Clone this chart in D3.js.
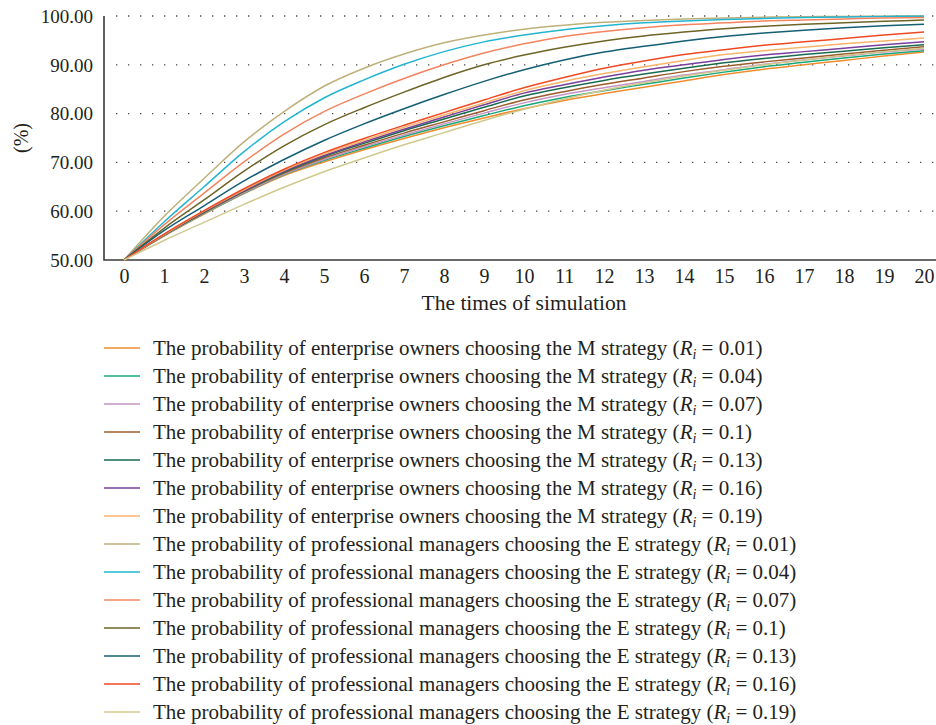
<!DOCTYPE html>
<html>
<head>
<meta charset="utf-8">
<script src="https://cdn.jsdelivr.net/npm/d3@7"></script>
<style>
  html, body { margin: 0; padding: 0; background: #fff; }
  svg { display: block; }
  text { font-family: "Liberation Serif", "DejaVu Serif", serif; fill: #231f20; }
</style>
</head>
<body>
<svg id="chart" width="936" height="725"></svg>
<script>
// Simulation steps on the x axis
const times = [0, 1, 2, 3, 4, 5, 6, 7, 8, 9, 10, 11, 12, 13, 14, 15, 16, 17, 18, 19, 20];
const yTicks = [50, 60, 70, 80, 90, 100];

// Enterprise owners choosing the M strategy (%), by R_i
const ownersM001 = [50, 54.9, 59.4, 63.6, 67.3, 70.1, 72.6, 74.9, 77.1, 79.1, 81.0, 82.7, 84.1, 85.4, 86.7, 88.0, 89.1, 90.0, 90.9, 91.8, 92.6];
const ownersM004 = [50, 55.0, 59.5, 63.7, 67.5, 70.4, 72.9, 75.3, 77.5, 79.6, 81.6, 83.3, 84.7, 86.0, 87.3, 88.5, 89.6, 90.5, 91.4, 92.2, 92.9];
const ownersM007 = [50, 55.0, 59.6, 63.8, 67.6, 70.6, 73.2, 75.6, 77.9, 80.1, 82.2, 83.9, 85.3, 86.6, 87.9, 89.0, 90.1, 91.0, 91.8, 92.6, 93.2];
const ownersM010 = [50, 55.1, 59.7, 64.0, 67.8, 70.9, 73.5, 76.0, 78.3, 80.6, 82.8, 84.5, 86.0, 87.3, 88.6, 89.7, 90.6, 91.4, 92.2, 93.0, 93.7];
const ownersM013 = [50, 55.1, 59.8, 64.1, 68.0, 71.2, 73.9, 76.5, 78.9, 81.3, 83.6, 85.3, 86.8, 88.1, 89.3, 90.4, 91.3, 92.1, 92.8, 93.5, 94.1];
const ownersM016 = [50, 55.2, 59.9, 64.2, 68.2, 71.4, 74.2, 76.8, 79.3, 81.8, 84.2, 85.9, 87.5, 88.9, 90.0, 91.1, 92.0, 92.7, 93.4, 94.1, 94.7];
const ownersM019 = [50, 55.2, 60.0, 64.4, 68.4, 71.7, 74.5, 77.2, 79.7, 82.2, 84.7, 86.6, 88.2, 89.6, 90.9, 92.1, 92.9, 93.6, 94.3, 94.9, 95.5];

// Professional managers choosing the E strategy (%), by R_i
const managersE001 = [50, 58.9, 66.7, 74.2, 80.4, 85.6, 89.3, 92.2, 94.5, 96.1, 97.3, 98.1, 98.7, 99.1, 99.4, 99.6, 99.75, 99.85, 99.9, 99.95, 100];
const managersE004 = [50, 57.8, 65.0, 72.2, 78.3, 83.2, 86.9, 90.1, 92.7, 94.7, 96.1, 97.2, 98.0, 98.6, 99.0, 99.3, 99.5, 99.7, 99.8, 99.9, 99.95];
const managersE007 = [50, 57.2, 63.7, 70.1, 75.8, 80.4, 84.0, 87.2, 90.0, 92.4, 94.3, 95.8, 96.8, 97.6, 98.2, 98.6, 99.0, 99.2, 99.4, 99.6, 99.7];
const managersE010 = [50, 56.5, 62.3, 68.2, 73.4, 77.7, 81.2, 84.4, 87.4, 90.0, 92.0, 93.6, 94.9, 95.9, 96.7, 97.4, 97.9, 98.3, 98.6, 98.9, 99.2];
const managersE013 = [50, 56.0, 61.1, 66.2, 70.6, 74.5, 77.9, 81.0, 83.9, 86.6, 89.0, 91.0, 92.6, 93.8, 94.9, 95.8, 96.5, 97.1, 97.6, 98.0, 98.3];
const managersE016 = [50, 55.3, 60.1, 64.6, 68.6, 72.0, 74.9, 77.6, 80.2, 82.8, 85.3, 87.4, 89.3, 90.8, 92.1, 93.1, 94.0, 94.7, 95.4, 96.1, 96.7];
const managersE019 = [50, 54.0, 57.7, 61.4, 64.9, 68.1, 70.9, 73.6, 76.1, 78.6, 80.9, 83.0, 84.8, 86.3, 87.7, 88.9, 90.0, 91.0, 91.9, 92.7, 93.4];

const ownerLabel = "The probability of enterprise owners choosing the M strategy";
const managerLabel = "The probability of professional managers choosing the E strategy";

const series = [
  { label: ownerLabel,   r: "0.01", color: "#f08c2e", values: ownersM001 },
  { label: ownerLabel,   r: "0.04", color: "#18a97a", values: ownersM004 },
  { label: ownerLabel,   r: "0.07", color: "#c594c5", values: ownersM007 },
  { label: ownerLabel,   r: "0.1",  color: "#9c5d2c", values: ownersM010 },
  { label: ownerLabel,   r: "0.13", color: "#1a6b50", values: ownersM013 },
  { label: ownerLabel,   r: "0.16", color: "#7b3f9c", values: ownersM016 },
  { label: ownerLabel,   r: "0.19", color: "#f7b46a", values: ownersM019 },
  { label: managerLabel, r: "0.01", color: "#bfb07a", values: managersE001 },
  { label: managerLabel, r: "0.04", color: "#22b5d0", values: managersE004 },
  { label: managerLabel, r: "0.07", color: "#f4845f", values: managersE007 },
  { label: managerLabel, r: "0.1",  color: "#6e6426", values: managersE010 },
  { label: managerLabel, r: "0.13", color: "#145f74", values: managersE013 },
  { label: managerLabel, r: "0.16", color: "#f04a23", values: managersE016 },
  { label: managerLabel, r: "0.19", color: "#d1c88e", values: managersE019 }
];

const svg = d3.select("#chart");

const plot = { left: 104, right: 936, top: 16, bottom: 260 };

const x = d3.scaleLinear().domain([0, 20]).range([124, 924]);
const y = d3.scaleLinear().domain([50, 100]).range([plot.bottom, plot.top]);

// Dotted horizontal gridlines
svg.append("g")
  .selectAll("line")
  .data(yTicks.filter(d => d > 50))
  .join("line")
  .attr("x1", plot.left + 12)
  .attr("x2", plot.right)
  .attr("y1", d => y(d))
  .attr("y2", d => y(d))
  .attr("stroke", "#444")
  .attr("stroke-width", 1.3)
  .attr("stroke-dasharray", "1.3 10.7");

// Y axis
const yAxis = svg.append("g")
  .attr("transform", `translate(${plot.left},0)`)
  .call(d3.axisLeft(y).tickValues(yTicks).tickFormat(d3.format(".2f")).tickSize(0).tickPadding(11));
yAxis.select(".domain").remove();
yAxis.selectAll("text").style("font-size", "19px").attr("fill", "#231f20").attr("dy", "0.33em");

// X axis
const xAxis = svg.append("g")
  .attr("transform", `translate(0,${plot.bottom})`)
  .call(d3.axisBottom(x).tickValues(times).tickFormat(d3.format("d")).tickSize(0).tickPadding(9));
xAxis.select(".domain").remove();
xAxis.selectAll("text").style("font-size", "20px").attr("fill", "#231f20");

// Axis lines
svg.append("path")
  .attr("d", `M${plot.left},${plot.top}V${plot.bottom}H${plot.right}`)
  .attr("fill", "none")
  .attr("stroke", "#3a3a3a")
  .attr("stroke-width", 1.6);

// Axis titles
svg.append("text")
  .attr("x", 524)
  .attr("y", 310)
  .attr("text-anchor", "middle")
  .style("font-size", "21.5px")
  .text("The times of simulation");

svg.append("text")
  .attr("transform", "translate(28,138) rotate(-90)")
  .attr("text-anchor", "middle")
  .style("font-size", "20px")
  .text("(%)");

// Series lines
const line = d3.line()
  .x((d, i) => x(times[i]))
  .y(d => y(d))
  .curve(d3.curveMonotoneX);

svg.append("g")
  .selectAll("path")
  .data(series)
  .join("path")
  .attr("d", d => line(d.values))
  .attr("fill", "none")
  .attr("stroke", d => d.color)
  .attr("stroke-width", 1.5);

// Legend
const legend = svg.append("g")
  .selectAll("g")
  .data(series)
  .join("g")
  .attr("transform", (d, i) => `translate(0,${348 + i * 28})`);

legend.append("line")
  .attr("x1", 104)
  .attr("x2", 140)
  .attr("stroke", d => d.color)
  .attr("stroke-width", 1.5);

const lt = legend.append("text")
  .attr("x", 153)
  .attr("dy", "0.33em")
  .style("font-size", "21px");
lt.append("tspan").text(d => d.label + " (");
lt.append("tspan").style("font-style", "italic").text("R");
lt.append("tspan").style("font-style", "italic").style("font-size", "14px").attr("dy", "4").text("i");
lt.append("tspan").attr("dy", "-4").text(d => " = " + d.r + ")");
</script>
</body>
</html>
